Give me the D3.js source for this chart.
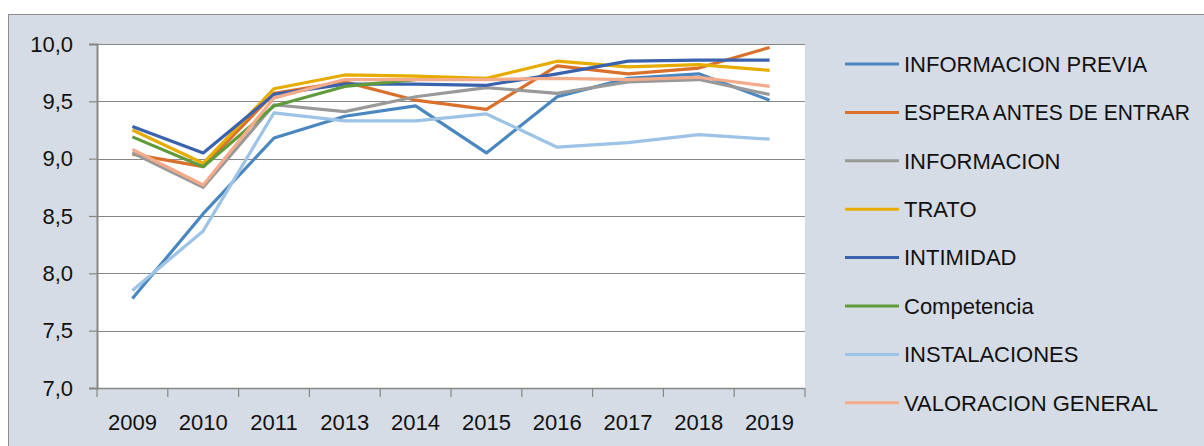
<!DOCTYPE html>
<html>
<head>
<meta charset="utf-8">
<script src="https://cdn.jsdelivr.net/npm/d3@7"></script>
<style>
  body { margin: 0; background: #fff; }
  svg { display: block; }
  .tick text { font-family: "Liberation Sans", Arial, sans-serif; font-size: 22px; fill: #111; }
</style>
</head>
<body>
<div id="chart"></div>
<script>
var years = ["2009", "2010", "2011", "2013", "2014", "2015", "2016", "2017", "2018", "2019"]

var seriesNames = ["INFORMACION PREVIA", "ESPERA ANTES DE ENTRAR", "INFORMACION", "TRATO",
  "INTIMIDAD", "Competencia", "INSTALACIONES", "VALORACION GENERAL"]

var seriesColors = ["#4a86c0", "#d9702c", "#999999", "#e6ac00", "#3b62ad", "#5f9b3b", "#9dc3e6", "#f4ab8a"]

var infoPrevia   = [7.78, 8.52, 9.18, 9.37, 9.46, 9.05, 9.54, 9.70, 9.74, 9.51]
var espera       = [9.04, 8.93, 9.57, 9.67, 9.51, 9.43, 9.81, 9.74, 9.79, 9.97]
var informacion  = [9.05, 8.75, 9.47, 9.41, 9.54, 9.62, 9.57, 9.67, 9.69, 9.56]
var trato        = [9.25, 8.96, 9.61, 9.73, 9.72, 9.70, 9.85, 9.80, 9.82, 9.77]
var intimidad    = [9.28, 9.05, 9.56, 9.65, 9.65, 9.64, 9.74, 9.85, 9.86, 9.86]
var competencia  = [9.19, 8.93, 9.46, 9.63, 9.69, null, null, null, null, null]
var instalacion  = [7.85, 8.37, 9.40, 9.33, 9.33, 9.39, 9.10, 9.14, 9.21, 9.17]
var valoracion   = [9.08, 8.77, 9.53, 9.69, 9.69, 9.69, 9.70, 9.69, 9.71, 9.63]

var yTicks = [7.0, 7.5, 8.0, 8.5, 9.0, 9.5, 10.0]

var allSeries = [infoPrevia, espera, informacion, trato, intimidad, competencia, instalacion, valoracion]

var W = 1204, H = 446
var margin = {top: 44, left: 97, right: 399, bottom: 58}
var width = W - margin.left - margin.right
var height = H - margin.top - margin.bottom

var svg = d3.select("#chart").append("svg")
  .attr("width", W)
  .attr("height", H)

// chart background
svg.append("rect")
  .attr("x", 8.5).attr("y", 14.5)
  .attr("width", W).attr("height", H)
  .attr("fill", "#d6dce5")
  .attr("stroke", "#8c8c8c")
  .attr("stroke-width", 1)

var main = svg.append("g")
  .attr("transform", "translate(" + margin.left + "," + margin.top + ")")

main.append("rect")
  .attr("width", width).attr("height", height)
  .attr("fill", "#ffffff")

var x = d3.scaleBand()
  .domain(years)
  .range([0, width])

var y = d3.scaleLinear()
  .domain([7, 10])
  .range([height, 0])

// gridlines
main.selectAll(".grid")
  .data(yTicks.slice(1))
  .enter().append("line")
  .attr("x1", 0).attr("x2", width)
  .attr("y1", function (d) { return Math.round(y(d)) + 0.5 })
  .attr("y2", function (d) { return Math.round(y(d)) + 0.5 })
  .attr("stroke", "#878787")
  .attr("stroke-width", 1.2)

// y axis
var yAxis = d3.axisLeft(y)
  .tickValues(yTicks)
  .tickSize(8)
  .tickPadding(16)
  .tickFormat(function (d) { return d3.format(".1f")(d).replace(".", ",") })

var gy = main.append("g").call(yAxis)
gy.select(".domain").attr("stroke", "#878787").attr("stroke-width", 2)
gy.selectAll(".tick line").attr("stroke", "#878787").attr("stroke-width", 1.2)

// x axis
var gx = main.append("g")
  .attr("transform", "translate(0," + height + ")")

gx.append("line")
  .attr("x1", 0).attr("x2", width)
  .attr("y1", 0.5).attr("y2", 0.5)
  .attr("stroke", "#878787").attr("stroke-width", 1.5)

gx.selectAll(".xtick")
  .data(years.concat(["end"]))
  .enter().append("line")
  .attr("x1", function (d, i) { return i < years.length ? x(d) : width })
  .attr("x2", function (d, i) { return i < years.length ? x(d) : width })
  .attr("y1", 0).attr("y2", 9)
  .attr("stroke", "#878787").attr("stroke-width", 1.2)

gx.selectAll(".xlabel")
  .data(years)
  .enter().append("text")
  .attr("x", function (d) { return x(d) + x.bandwidth() / 2 })
  .attr("y", 42)
  .attr("text-anchor", "middle")
  .style("font-family", "Liberation Sans, Arial, sans-serif")
  .style("font-size", "22px")
  .attr("fill", "#111")
  .text(function (d) { return d })

// series lines
var line = d3.line()
  .defined(function (d) { return d !== null })
  .x(function (d, i) { return x(years[i]) + x.bandwidth() / 2 })
  .y(function (d) { return y(d) })

main.selectAll(".series")
  .data(allSeries)
  .enter().append("path")
  .attr("d", function (d) { return line(d) })
  .attr("fill", "none")
  .attr("stroke", function (d, i) { return seriesColors[i] })
  .attr("stroke-width", 3.2)
  .attr("stroke-linejoin", "round")

// legend
var legend = svg.append("g")
  .attr("transform", "translate(845,64)")

var item = legend.selectAll(".item")
  .data(seriesNames)
  .enter().append("g")
  .attr("transform", function (d, i) { return "translate(0," + (i * 48.4) + ")" })

item.append("line")
  .attr("x1", 0).attr("x2", 54)
  .attr("stroke", function (d, i) { return seriesColors[i] })
  .attr("stroke-width", 3)

var maxText = 286
item.append("text")
  .attr("x", 59)
  .attr("dy", "0.35em")
  .style("font-family", "Liberation Sans, Arial, sans-serif")
  .style("font-size", "22px")
  .attr("fill", "#111")
  .text(function (d) { return d })
  .each(function () {
    // squeeze long labels so they stay inside the chart like the original
    if (this.getComputedTextLength() > maxText) {
      d3.select(this).attr("textLength", maxText).attr("lengthAdjust", "spacingAndGlyphs")
    }
  })
</script>
</body>
</html>
